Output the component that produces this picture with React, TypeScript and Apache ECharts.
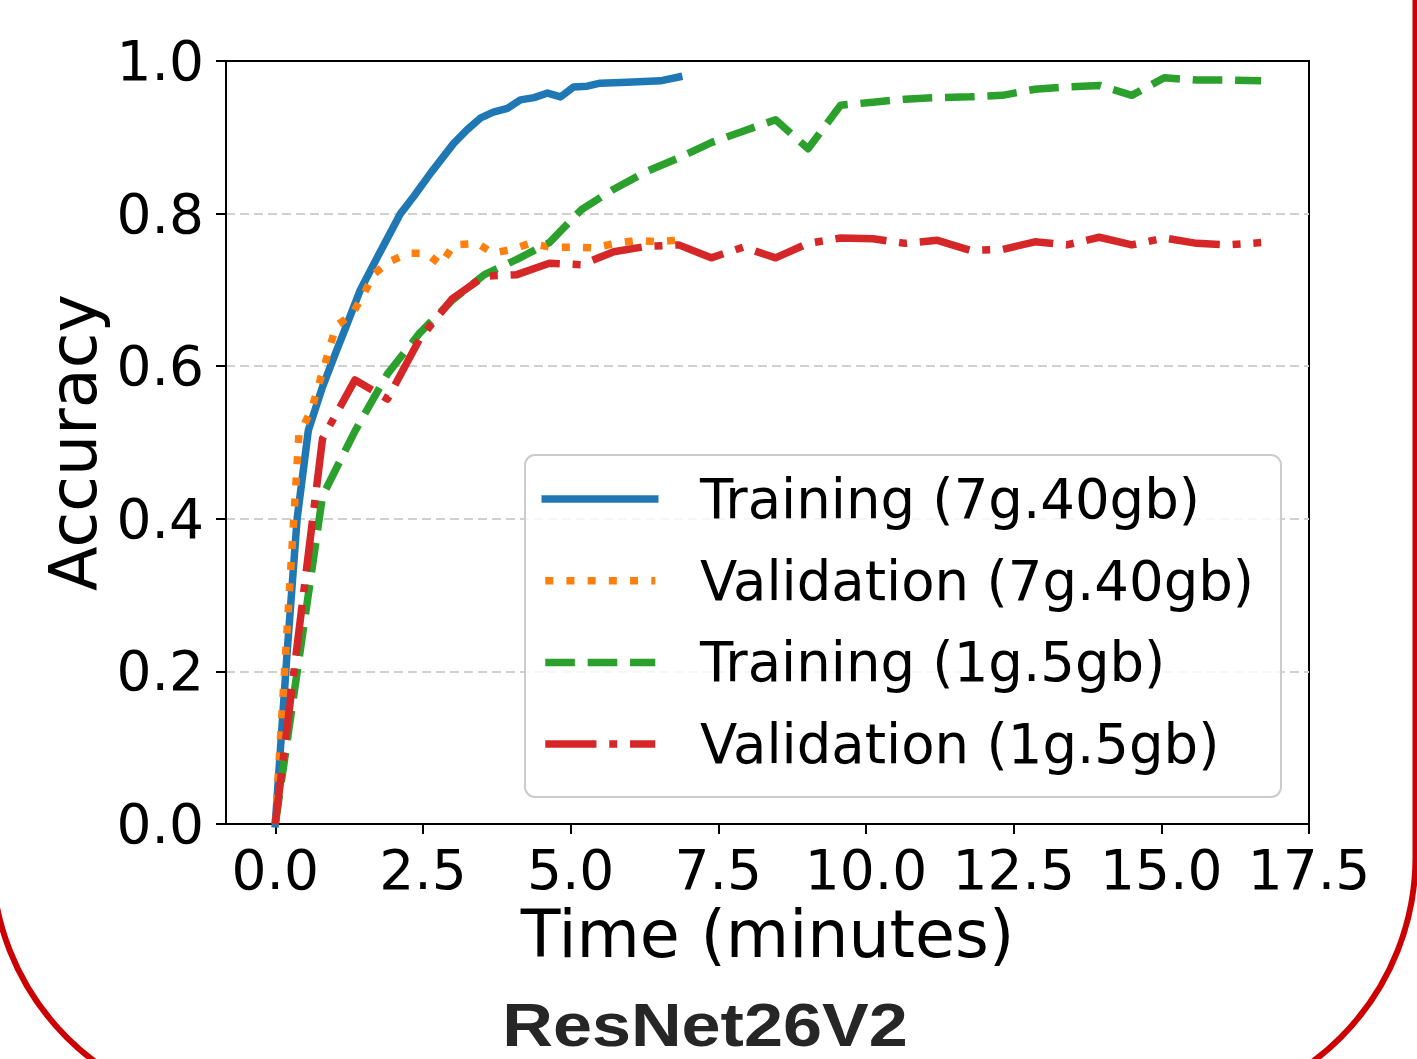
import React, { useEffect, useRef } from "react";
import * as echarts from "echarts";

// ---- data ----
const xTickValues = [0, 2.5, 5, 7.5, 10, 12.5, 15, 17.5];

const trainBigTime = [0, 0.2, 0.37, 0.56, 0.8, 1.02, 1.22, 1.44, 1.73, 2.12, 2.34, 2.63, 3.02, 3.25, 3.47, 3.69, 3.93, 4.15, 4.38, 4.61, 4.83, 5.05, 5.28, 5.5, 5.96, 6.52, 6.83];
const trainBigAcc = [0, 0.224, 0.4, 0.516, 0.573, 0.617, 0.656, 0.7, 0.743, 0.8, 0.822, 0.853, 0.892, 0.91, 0.925, 0.933, 0.938, 0.949, 0.952, 0.958, 0.953, 0.966, 0.967, 0.971, 0.972, 0.974, 0.979];

const valBigTime = [0, 0.4, 0.5, 0.62, 1.03, 1.29, 1.49, 1.66, 1.93, 2.25, 2.56, 2.8, 3.02, 3.42, 3.69, 4.0, 4.32, 4.66, 5.05, 5.39, 5.76, 6.13, 6.47, 6.78];
const valBigAcc = [0, 0.51, 0.525, 0.545, 0.653, 0.667, 0.693, 0.72, 0.737, 0.748, 0.748, 0.733, 0.759, 0.761, 0.748, 0.753, 0.761, 0.756, 0.756, 0.755, 0.761, 0.765, 0.763, 0.765];

const smallTime = [0, 0.8, 1.35, 1.9, 2.44, 2.99, 3.54, 4.09, 4.64, 5.18, 5.73, 6.28, 6.83, 7.38, 7.92, 8.47, 9.02, 9.57, 10.12, 10.66, 11.21, 11.76, 12.31, 12.86, 13.4, 13.95, 14.5, 15.05, 15.6, 16.14, 16.69];
const trainSmallAcc = [0, 0.43, 0.515, 0.59, 0.643, 0.686, 0.72, 0.74, 0.762, 0.805, 0.832, 0.855, 0.873, 0.893, 0.908, 0.923, 0.885, 0.942, 0.946, 0.95, 0.952, 0.953, 0.955, 0.963, 0.966, 0.968, 0.955, 0.978, 0.975, 0.975, 0.974];
const valSmallAcc = [0, 0.505, 0.582, 0.557, 0.635, 0.688, 0.718, 0.72, 0.735, 0.733, 0.75, 0.757, 0.759, 0.742, 0.756, 0.742, 0.761, 0.768, 0.767, 0.761, 0.765, 0.752, 0.753, 0.763, 0.759, 0.769, 0.759, 0.768, 0.761, 0.759, 0.762];

const seriesNames = ["Training (7g.40gb)", "Validation (7g.40gb)", "Training (1g.5gb)", "Validation (1g.5gb)"];
const seriesColors = ["#1f77b4", "#ff7f0e", "#2ca02c", "#d62728"];

const zip = (xs: number[], ys: number[]) => xs.map((x, i) => [x, ys[i]]);

const FONT = "'DejaVu Sans', sans-serif";
const LW = 7.5;
// matplotlib-like dash patterns (scaled by line width)
const dashPatterns: (number[] | null)[] = [null, [8, 13.2], [29.6, 12.8], [51.2, 12.8, 8, 12.8]];

// legend handle drawn as a path (icon box 117 x LW; pattern from 3.75 to 113.75)
function handlePath(pattern: number[] | null): string {
  const h = LW;
  if (!pattern) return `M0,0L117,0L117,${h}L0,${h}Z`;
  const start = 3.75;
  const end = 113.75;
  let parts = `M0,0L0,${h}L0,${h}Z M117,0L117,${h}L117,${h}Z`;
  let pos = start;
  let k = 0;
  while (pos < end) {
    const len = pattern[k % pattern.length];
    if (k % 2 === 0) {
      const a = pos;
      const b = Math.min(pos + len, end);
      parts += ` M${a},0L${b},0L${b},${h}L${a},${h}Z`;
    }
    pos += len;
    k++;
  }
  return "path://" + parts;
}

export default function App() {
  const ref = useRef<HTMLDivElement>(null);
  useEffect(() => {
    if (!ref.current) return;
    const chart = echarts.init(ref.current, undefined, { renderer: "svg" });
    const datas = [
      zip(trainBigTime, trainBigAcc),
      zip(valBigTime, valBigAcc),
      zip(smallTime, trainSmallAcc),
      zip(smallTime, valSmallAcc),
    ];
    chart.setOption({
      animation: false,
      backgroundColor: "#ffffff",
      grid: {
        left: 226,
        top: 61,
        width: 1083,
        height: 763,
        show: true,
        borderColor: "#000",
        borderWidth: 2,
        backgroundColor: "transparent",
      },
      xAxis: {
        type: "value",
        min: -0.834,
        max: 17.5,
        name: "Time (minutes)",
        nameLocation: "middle",
        nameGap: 76,
        nameTextStyle: { fontFamily: FONT, fontSize: 65, color: "#000" },
        axisLine: { show: true, onZero: false, lineStyle: { color: "#000", width: 2 } },
        axisTick: { show: true, length: 10, lineStyle: { color: "#000", width: 2 }, customValues: xTickValues },
        axisLabel: {
          customValues: xTickValues,
          fontFamily: FONT,
          fontSize: 55,
          color: "#000",
          margin: 18,
          formatter: (v: number) => v.toFixed(1),
        },
        splitLine: { show: false },
      },
      yAxis: {
        type: "value",
        min: 0,
        max: 1,
        interval: 0.2,
        name: "Accuracy",
        nameLocation: "middle",
        nameGap: 114,
        nameTextStyle: { fontFamily: FONT, fontSize: 65, color: "#000" },
        axisLine: { show: true, onZero: false, lineStyle: { color: "#000", width: 2 } },
        axisTick: { show: true, length: 10, lineStyle: { color: "#000", width: 2 } },
        axisLabel: {
          fontFamily: FONT,
          fontSize: 55,
          color: "#000",
          margin: 22,
          formatter: (v: number) => v.toFixed(1),
        },
        splitLine: {
          show: true,
          showMinLine: false,
          showMaxLine: false,
          lineStyle: { color: "#d0d0d0", width: 1.8, type: [9, 5] },
        },
      },
      legend: {
        show: true,
        orient: "vertical",
        left: 541.5,
        top: 469,
        padding: 0,
        itemWidth: 117,
        itemHeight: LW,
        itemGap: 21.7,
        symbolKeepAspect: false,
        z: 20,
        itemStyle: { borderWidth: 0 },
        data: seriesNames.map((name, i) => ({ name, icon: handlePath(dashPatterns[i]) })),
        textStyle: { fontFamily: FONT, fontSize: 54.5, color: "#000", lineHeight: 60, padding: [0, 0, 0, 36.5] },
      },
      graphic: [
        {
          type: "rect",
          z: 10,
          shape: { x: 525, y: 455, width: 756, height: 342, r: 10 },
          style: { fill: "rgba(255,255,255,0.8)", stroke: "#cccccc", lineWidth: 2 },
        },
        {
          type: "rect",
          z: 30,
          silent: true,
          shape: { x: -8, y: -400, width: 1423.5, height: 1512, r: 255 },
          style: { fill: "none", stroke: "#cc0000", lineWidth: 6 },
        },
        {
          type: "text",
          z: 30,
          x: 705,
          y: 1025,
          scaleX: 1.15,
          style: {
            text: "ResNet26V2",
            font: "bold 61px 'Liberation Sans', Arial, sans-serif",
            fill: "#262626",
            align: "center",
            verticalAlign: "middle",
          },
        },
      ],
      series: seriesNames.map((name, i) => ({
        name,
        type: "line",
        data: datas[i],
        showSymbol: false,
        symbol: "none",
        color: seriesColors[i],
        clip: true,
        lineStyle: {
          color: seriesColors[i],
          width: LW,
          type: dashPatterns[i] ? dashPatterns[i] : "solid",
          cap: i === 0 ? "square" : "butt",
          join: "round",
        },
        z: 2 + i * 0.01,
      })),
    });
    return () => chart.dispose();
  }, []);
  return (
    <div
      ref={ref}
      style={{ position: "absolute", left: 0, top: 0, width: 1417, height: 1059 }}
    />
  );
}
